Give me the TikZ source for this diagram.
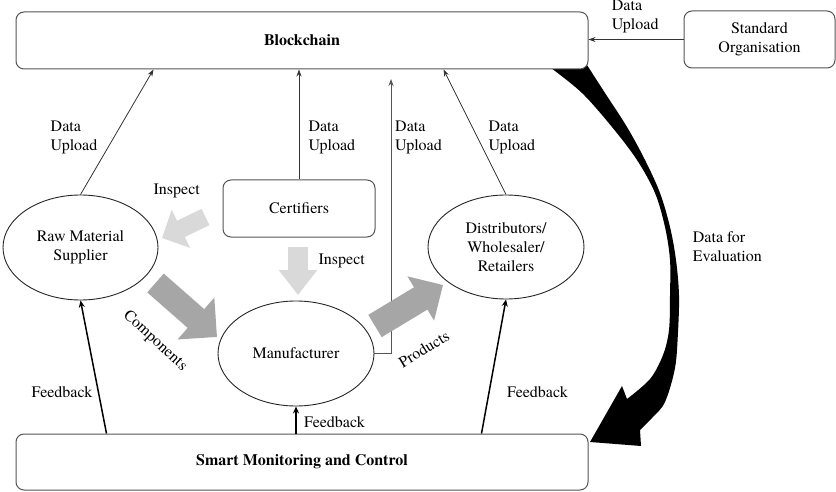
\documentclass[tikz,border=0pt]{standalone}
\usepackage{fontspec}
\setmainfont{texgyretermes}[Extension=.otf, UprightFont=*-regular, BoldFont=*-bold, ItalicFont=*-italic, BoldItalicFont=*-bolditalic]
\usetikzlibrary{shapes.geometric,arrows.meta,calc}
\definecolor{boxgray}{HTML}{555555}
\definecolor{linegray}{HTML}{333333}
\definecolor{flowlight}{HTML}{D9D9D9}
\definecolor{flowdark}{HTML}{A6A6A6}
\begin{document}
\begin{tikzpicture}[x=1pt,y=-1pt,
  every node/.style={font=\rmfamily\fontsize{16}{19.3}\selectfont, text=black},
  entity/.style={draw=boxgray, line width=1pt, rounded corners=8pt, fill=white, inner sep=0pt},
  party/.style={ellipse, draw=black!85, line width=0.9pt, fill=white, inner sep=0pt},
  upload/.style={draw=linegray, line width=0.8pt, -{Stealth[length=7pt,width=5pt]}},
  feedback/.style={draw=black, line width=1.5pt, -{Stealth[length=7pt,width=6pt]}},
  tag/.style={inner sep=0pt, align=left}
]
\fill[white] (0,0) rectangle (836,492);
\useasboundingbox (0,0) rectangle (836,492);

% thick curved arrow: blockchain data sent for evaluation
\fill[black] plot[smooth, tension=0.55] coordinates {(551,68) (582,93) (612,127) (637,160) (655,193) (665,227) (670,260) (670,295) (669,330) (663,355) (650,379) (627,399)}
  -- (622,386) -- (590,442) -- (641,446)
  -- plot[smooth, tension=0.55] coordinates {(640,430) (652,418) (665,402) (675,368) (678,332) (679,295) (676,260) (670,227) (660,193) (645,160) (627,127) (605,93) (587,65)}
  -- cycle;

% boxes and parties
\node[entity, minimum width=572pt, minimum height=57pt] (bc) at (302,40.5) {\textbf{Blockchain}};
\node[entity, minimum width=151pt, minimum height=57pt, align=center] (std) at (759.5,39.5) {Standard\\Organisation};
\node[entity, minimum width=152pt, minimum height=57pt] (cert) at (299,208.5) {Certifiers};
\node[entity, minimum width=572pt, minimum height=56pt] (smc) at (302,462) {\textbf{Smart Monitoring and Control}};
\node[party, minimum width=155pt, minimum height=105pt, align=center] (raw) at (80.5,247.5) {Raw Material\\Supplier};
\node[party, minimum width=156pt, minimum height=105pt] (man) at (296,353.5) {Manufacturer};
\node[party, minimum width=156pt, minimum height=104pt, align=center] (dist) at (506,247) {Distributors/\\Wholesaler/\\Retailers};

% data uploads to the blockchain
\coordinate (mtop) at (391,79);
\draw[upload] (raw.north) -- ($(bc.south west)+(138,0)$);
\draw[upload] (cert.north) -- (cert.north |- bc.south);
\draw[upload, draw=boxgray] (man.east) -| (mtop);
\draw[upload] (dist.north) -- ($(bc.south west)+(428,0)$);
\draw[upload] (std.west) -- (std.west -| bc.east);

% feedback from monitoring
\draw[feedback] ($(smc.north west)+(91,0)$) -- (raw.south);
\draw[feedback] (smc.north -| man.south) -- (man.south);
\draw[feedback] ($(smc.north west)+(466,0)$) -- (dist.south);

% block arrows: inspection and material flow
\coordinate (insA) at (205.5,217); \coordinate (insB) at (162,238);
\coordinate (insC) at (298,247);   \coordinate (insD) at (298,295);
\coordinate (comA) at (155.5,283); \coordinate (comB) at (217,337);
\coordinate (proA) at (375,326);   \coordinate (proB) at (443,285);
\draw[flowlight, line width=18pt, -{Triangle[length=21pt,width=41pt]}] (insA) -- (insB);
\draw[flowlight, line width=20pt, -{Triangle[length=25pt,width=37pt]}] (insC) -- (insD);
\draw[flowdark, line width=25pt, -{Triangle[length=28pt,width=54pt]}] (comA) -- (comB);
\draw[flowdark, line width=26pt, -{Triangle[length=26pt,width=50pt]}] (proA) -- (proB);

% labels
\node[tag, anchor=north west] (du1) at (50.5,120.4) {Data\\Upload};
\node[tag, anchor=north west] (du2) at (308.3,120.4) {Data\\Upload};
\node[tag, anchor=north west] (du3) at (395,120.4) {Data\\Upload};
\node[tag, anchor=north west] (du4) at (488.3,120.4) {Data\\Upload};
\node[tag, anchor=north west] (du5) at (611.7,-0.6) {Data\\Upload};
\node[tag, anchor=north west] (eval) at (692.7,231.4) {Data for\\Evaluation};
\node[tag, anchor=base] (fb1) at (62,397) {Feedback};
\node[tag, anchor=base] (fb2) at (334.5,427.3) {Feedback};
\node[tag, anchor=base] (fb3) at (537.5,397) {Feedback};
\node[tag, anchor=base] (in1) at (176.7,194.3) {Inspect};
\node[tag, anchor=base] (in2) at (341.7,265) {Inspect};
\node[tag, rotate=-43] (comp) at (155,341) {Components};
\node[tag, rotate=31] (prod) at (424,349) {Products};
\end{tikzpicture}
\end{document}
